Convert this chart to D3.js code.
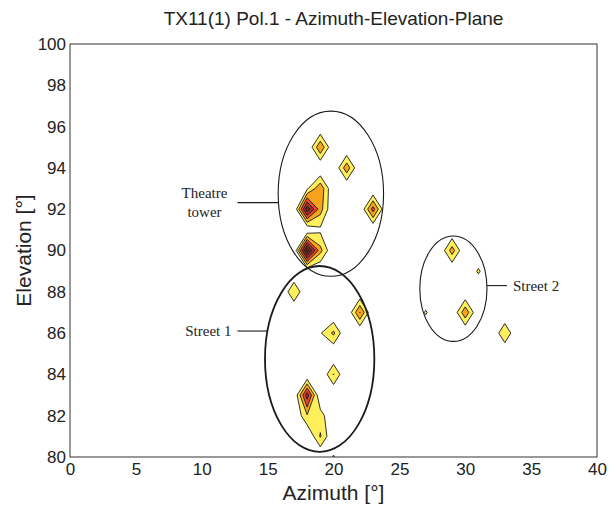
<!DOCTYPE html>
<html>
<head>
<meta charset="utf-8">
<script src="https://cdn.jsdelivr.net/npm/d3@7/dist/d3.min.js"></script>
<style>
  body { margin: 0; background: #fff; }
  text { font-family: "Liberation Sans", Arial, sans-serif; fill: #222; }
  .note { font-family: "Liberation Serif", "Times New Roman", serif; }
</style>
</head>
<body>
<div id="chart"></div>
<script>
// grid of the measurement (1 deg steps)
var azValues = d3.range(0, 41);
var elValues = d3.range(80, 101);

// peaks (grid cells that are above zero)
var peakAz  = [19, 21, 23, 18, 19, 19, 18, 18, 19, 19, 17, 20, 19, 20, 22, 18, 18, 19, 19, 29, 31, 27, 30, 33, 20];
var peakEl  = [95, 94, 92, 92, 93, 92, 93, 90, 90, 91, 88, 86, 86, 84, 87, 83, 82, 82, 81, 90, 89, 87, 87, 86, 80];
var peakVal = [2.7, 2.5, 3.2, 5.2, 2.6, 2.3, 0.85, 6.0, 2.2, 0.8, 1.85, 2.1, 0.9, 1.95, 2.85, 4.2, 1.8, 1.45, 2.0, 2.35, 1.15, 1.12, 2.6, 1.85, 1.1];

// contour levels and their fills
var levels = [1, 1.9, 2.8, 3.7, 4.6, 5.5];
var levelColors = ["#ffef5a", "#f9a21d", "#e9472c", "#a52d27", "#6b2b27", "#4a3838"];

var xTicks = [0, 5, 10, 15, 20, 25, 30, 35, 40];
var yTicks = [80, 82, 84, 86, 88, 90, 92, 94, 96, 98, 100];

// circled regions
var noteNames = ["Theatre tower", "Street 1", "Street 2"];
var noteAz    = [19.8, 18.95, 29.1];
var noteEl    = [92.75, 84.75, 88.15];
var noteRAz   = [4.0, 4.15, 2.55];
var noteREl   = [4.0, 4.5, 2.55];
var noteLineEl = [92.32, 86.1, 88.3];

// set the dimensions and margins of the graph
var margin = {top: 44, right: 19, bottom: 49, left: 70},
	width = 616 - margin.left - margin.right,
	height = 506 - margin.top - margin.bottom;

var svg = d3.select("#chart")
  .append("svg")
	.attr("width", width + margin.left + margin.right)
	.attr("height", height + margin.top + margin.bottom)
  .append("g")
	.attr("transform", "translate(" + margin.left + "," + margin.top + ")");

var x = d3.scaleLinear().domain([0, 40]).range([0, width]);
var y = d3.scaleLinear().domain([80, 100]).range([height, 0]);

// title
svg.append("text")
	.attr("x", width / 2)
	.attr("y", -19)
	.attr("text-anchor", "middle")
	.style("font-size", "19px")
	.text("TX11(1) Pol.1 - Azimuth-Elevation-Plane");

svg.append("clipPath")
	.attr("id", "clip")
  .append("rect")
	.attr("width", width)
	.attr("height", height);

// build the value grid from the peaks
var nx = azValues.length, ny = elValues.length;
var grid = new Array(nx * ny).fill(0);
peakAz.forEach(function(a, i) {
	grid[(peakEl[i] - elValues[0]) * nx + (a - azValues[0])] = peakVal[i];
});

var contours = d3.contours()
	.size([nx, ny])
	.thresholds(levels)(grid);

// contour coords -> screen (sample k sits at k + 0.5)
var proj = d3.geoTransform({
	point: function(px, py) {
		this.stream.point(x(azValues[0] + px - 0.5), y(elValues[0] + py - 0.5));
	}
});

svg.append("g")
	.attr("clip-path", "url(#clip)")
  .selectAll("path")
  .data(contours)
  .enter().append("path")
	.attr("d", d3.geoPath(proj))
	.attr("fill", function(d, i) { return levelColors[i]; })
	.attr("stroke", "#1a1a1a")
	.attr("stroke-width", 0.9)
	.attr("stroke-linejoin", "round");

// frame
svg.append("rect")
	.attr("width", width)
	.attr("height", height)
	.attr("fill", "none")
	.attr("stroke", "#333")
	.attr("stroke-width", 1);

// axes, no tick marks
var xAxis = svg.append("g")
	.attr("transform", "translate(0," + height + ")")
	.call(d3.axisBottom(x).tickValues(xTicks).tickSize(0).tickPadding(6));
var yAxis = svg.append("g")
	.call(d3.axisLeft(y).tickValues(yTicks).tickSize(0).tickPadding(4));
[xAxis, yAxis].forEach(function(g) {
	g.select(".domain").remove();
	g.selectAll("text")
		.style("font-size", "17px")
		.style("font-family", "'Liberation Sans', Arial, sans-serif")
		.attr("fill", "#222");
});

svg.append("text")
	.attr("x", width / 2)
	.attr("y", height + 43)
	.attr("text-anchor", "middle")
	.style("font-size", "21px")
	.text("Azimuth [°]");

svg.append("text")
	.attr("transform", "rotate(-90)")
	.attr("x", -height / 2)
	.attr("y", -39)
	.attr("text-anchor", "middle")
	.style("font-size", "21px")
	.text("Elevation [°]");

// ellipses
svg.selectAll(".ring")
  .data(noteNames)
  .enter().append("ellipse")
	.attr("class", "ring")
	.attr("cx", function(d, i) { return x(noteAz[i]); })
	.attr("cy", function(d, i) { return y(noteEl[i]); })
	.attr("rx", function(d, i) { return x(noteRAz[i]) - x(0); })
	.attr("ry", function(d, i) { return y(80) - y(80 + noteREl[i]); })
	.attr("fill", "none")
	.attr("stroke", "#1a1a1a")
	.attr("stroke-width", function(d, i) { return i == 1 ? 1.8 : 1.1; });

// leader lines and labels
var leader = [
	{i: 0, side: -1, len: 41},
	{i: 1, side: -1, len: 30},
	{i: 2, side: 1, len: 20}
];
leader.forEach(function(l) {
	var i = l.i;
	var rx = x(noteRAz[i]) - x(0), ry = y(80) - y(80 + noteREl[i]);
	var ey = y(noteLineEl[i]);
	var dy = ey - y(noteEl[i]);
	var ex = x(noteAz[i]) + l.side * rx * Math.sqrt(1 - (dy / ry) * (dy / ry));
	svg.append("line")
		.attr("x1", ex)
		.attr("x2", ex + l.side * l.len)
		.attr("y1", ey)
		.attr("y2", ey)
		.attr("stroke", "#1a1a1a")
		.attr("stroke-width", 1.1);
	var tx = ex + l.side * (l.len + 6);
	var words = noteNames[i] == "Theatre tower" ? ["Theatre", "tower"] : [noteNames[i]];
	var t = svg.append("text")
		.attr("class", "note")
		.attr("text-anchor", l.side < 0 ? (words.length > 1 ? "middle" : "end") : "start")
		.style("font-size", "15px");
	words.forEach(function(w, k) {
		t.append("tspan")
			.attr("x", words.length > 1 ? tx - 27 : tx)
			.attr("y", ey + 5 + (k - (words.length - 1) / 2) * 19)
			.text(w);
	});
});
</script>
</body>
</html>
